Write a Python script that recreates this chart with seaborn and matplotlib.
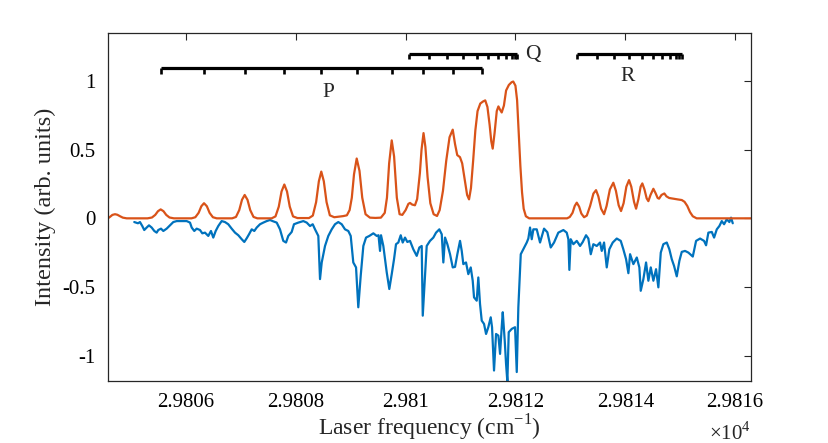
"""Espectro de excitación láser: medido vs. simulado, con ramas P, Q y R."""

import matplotlib

matplotlib.use("Agg")
import matplotlib.pyplot as plt
import seaborn as sns

# --- datos ---------------------------------------------------------------

# espectro simulado (naranja)
sim_freq = [
    29804.579, 29804.620, 29804.660, 29804.707, 29804.750, 29804.800, 29804.850, 29804.920,
    29805.300, 29805.380, 29805.440, 29805.490, 29805.539, 29805.590, 29805.640, 29805.700, 29805.780,
    29806.100, 29806.170, 29806.230, 29806.280, 29806.328, 29806.380, 29806.430, 29806.490, 29806.560,
    29806.840, 29806.910, 29806.970, 29807.020, 29807.069, 29807.120, 29807.170, 29807.230, 29807.300,
    29807.560, 29807.630, 29807.690, 29807.740, 29807.791, 29807.840, 29807.890, 29807.950, 29808.030,
    29808.240, 29808.310, 29808.370, 29808.420, 29808.464, 29808.510, 29808.560, 29808.620, 29808.700,
    29808.780, 29808.860,
    29808.930, 29808.980, 29809.020, 29809.060, 29809.109, 29809.160, 29809.210, 29809.270, 29809.350,
    29809.450,
    29809.550, 29809.620, 29809.660, 29809.700, 29809.747, 29809.790, 29809.840, 29809.890, 29809.940,
    29810.000, 29810.050, 29810.080, 29810.120, 29810.170,
    29810.210, 29810.260, 29810.290, 29810.326, 29810.360, 29810.400, 29810.450, 29810.510, 29810.572,
    29810.620, 29810.680, 29810.740, 29810.800, 29810.858, 29810.900, 29810.940, 29810.990, 29811.030,
    29811.070, 29811.120, 29811.155, 29811.190, 29811.230, 29811.270, 29811.310, 29811.360, 29811.410,
    29811.450, 29811.490, 29811.530, 29811.560, 29811.586, 29811.620, 29811.660, 29811.690, 29811.720,
    29811.750, 29811.790, 29811.830, 29811.880, 29811.930, 29811.960, 29812.000, 29812.030, 29812.060,
    29812.090, 29812.120, 29812.150, 29812.190, 29812.250,
    29812.600, 29812.940, 29812.990, 29813.040, 29813.080, 29813.117, 29813.160, 29813.200, 29813.250,
    29813.300, 29813.360, 29813.420, 29813.468, 29813.510, 29813.560, 29813.614, 29813.660, 29813.720,
    29813.783, 29813.830, 29813.880, 29813.923, 29813.970, 29814.020, 29814.069, 29814.110, 29814.160,
    29814.197, 29814.240, 29814.280, 29814.311, 29814.350, 29814.390, 29814.421, 29814.460, 29814.512,
    29814.550, 29814.590, 29814.616, 29814.660, 29814.712, 29814.750, 29814.800, 29814.870, 29814.950,
    29815.030, 29815.080, 29815.130, 29815.180, 29815.230, 29815.300, 29816.291,
]
sim_int = [
    0.000, 0.012, 0.025, 0.030, 0.026, 0.015, 0.005, 0.000,
    0.000, 0.006, 0.025, 0.052, 0.065, 0.052, 0.025, 0.006, 0.000,
    0.000, 0.008, 0.040, 0.088, 0.110, 0.088, 0.040, 0.008, 0.000,
    0.000, 0.010, 0.060, 0.135, 0.170, 0.135, 0.060, 0.010, 0.000,
    0.000, 0.014, 0.085, 0.195, 0.246, 0.195, 0.085, 0.014, 0.002,
    0.002, 0.020, 0.118, 0.270, 0.340, 0.270, 0.118, 0.022, 0.008,
    0.012, 0.016,
    0.022, 0.060, 0.150, 0.320, 0.435, 0.345, 0.150, 0.030, 0.005,
    0.003,
    0.005, 0.040, 0.150, 0.400, 0.567, 0.450, 0.150, 0.030, 0.025,
    0.060, 0.105, 0.112, 0.100, 0.095,
    0.140, 0.330, 0.500, 0.620, 0.520, 0.300, 0.110, 0.030, 0.017,
    0.060, 0.200, 0.420, 0.590, 0.645, 0.540, 0.460, 0.445, 0.400,
    0.300, 0.170, 0.138, 0.220, 0.420, 0.640, 0.780, 0.835, 0.850,
    0.858, 0.810, 0.680, 0.560, 0.507, 0.620, 0.780, 0.814, 0.790,
    0.770, 0.820, 0.930, 0.970, 0.990, 0.995, 0.965, 0.860, 0.620,
    0.380, 0.190, 0.070, 0.015, 0.000,
    0.000, 0.000, 0.010, 0.040, 0.090, 0.114, 0.085, 0.035, 0.008,
    0.020, 0.090, 0.180, 0.205, 0.160, 0.070, 0.030, 0.090, 0.210,
    0.259, 0.200, 0.095, 0.053, 0.110, 0.230, 0.278, 0.230, 0.120,
    0.070, 0.140, 0.230, 0.254, 0.210, 0.145, 0.125, 0.170, 0.215,
    0.185, 0.148, 0.143, 0.170, 0.181, 0.160, 0.148, 0.143, 0.138,
    0.133, 0.120, 0.090, 0.045, 0.015, 0.000, 0.000,
]

# espectro medido (azul, invertido)
exp_freq = [
    29805.058, 29805.126, 29805.162, 29805.204, 29805.240, 29805.284, 29805.326,
    29805.375, 29805.423, 29805.466, 29805.495, 29805.545, 29805.587, 29805.648,
    29805.709, 29805.769, 29805.831, 29805.922, 29806.013, 29806.073, 29806.104,
    29806.151, 29806.195, 29806.255, 29806.297, 29806.346, 29806.406, 29806.455,
    29806.497, 29806.541, 29806.588, 29806.650, 29806.710, 29806.770, 29806.832,
    29806.893, 29806.953, 29807.015, 29807.062, 29807.106, 29807.148, 29807.197,
    29807.244, 29807.288, 29807.348, 29807.408, 29807.470, 29807.530, 29807.590,
    29807.652, 29807.712, 29807.772, 29807.822, 29807.863, 29807.925, 29807.967,
    29808.046, 29808.137, 29808.199, 29808.259, 29808.308, 29808.350, 29808.410,
    29808.441, 29808.472, 29808.532, 29808.592, 29808.654, 29808.714, 29808.774,
    29808.836, 29808.896, 29808.956, 29809.000, 29809.047, 29809.097, 29809.138,
    29809.182, 29809.230, 29809.279, 29809.339, 29809.412, 29809.474, 29809.506,
    29809.534, 29809.552, 29809.594, 29809.656, 29809.703, 29809.747, 29809.789,
    29809.825, 29809.867, 29809.911, 29809.947, 29809.989, 29810.031, 29810.080,
    29810.140, 29810.202, 29810.250, 29810.293, 29810.312, 29810.353, 29810.384,
    29810.444, 29810.505, 29810.554, 29810.614, 29810.658, 29810.687, 29810.718,
    29810.760, 29810.809, 29810.858, 29810.900, 29810.942, 29810.991, 29811.022,
    29811.051, 29811.100, 29811.142, 29811.186, 29811.222, 29811.246, 29811.295,
    29811.324, 29811.355, 29811.386, 29811.428, 29811.465, 29811.506, 29811.550,
    29811.574, 29811.610, 29811.647, 29811.689, 29811.720, 29811.750, 29811.769,
    29811.805, 29811.829, 29811.853, 29811.878, 29811.933, 29811.993, 29812.024,
    29812.053, 29812.097, 29812.144, 29812.206, 29812.235, 29812.266, 29812.297,
    29812.326, 29812.388, 29812.448, 29812.521, 29812.581, 29812.643, 29812.703,
    29812.781, 29812.873, 29812.934, 29812.964, 29812.982, 29813.007, 29813.055,
    29813.117, 29813.177, 29813.226, 29813.286, 29813.328, 29813.372, 29813.419,
    29813.481, 29813.541, 29813.572, 29813.614, 29813.663, 29813.710, 29813.772,
    29813.845, 29813.918, 29813.965, 29814.015, 29814.057, 29814.088, 29814.148,
    29814.210, 29814.257, 29814.282, 29814.330, 29814.379, 29814.421, 29814.465,
    29814.512, 29814.561, 29814.603, 29814.647, 29814.694, 29814.756, 29814.803,
    29814.847, 29814.889, 29814.938, 29814.986, 29815.029, 29815.089, 29815.149,
    29815.230, 29815.290, 29815.363, 29815.435, 29815.472, 29815.514, 29815.576,
    29815.618, 29815.667, 29815.714, 29815.758, 29815.800, 29815.849, 29815.896,
    29815.927, 29815.958,
]
exp_int = [
    -0.027, -0.036, -0.027, -0.056, -0.085, -0.067, -0.051,
    -0.067, -0.092, -0.104, -0.085, -0.075, -0.092, -0.075,
    -0.051, -0.027, -0.020, -0.020, -0.020, -0.031, -0.067,
    -0.092, -0.075, -0.085, -0.109, -0.104, -0.128, -0.092,
    -0.140, -0.092, -0.056, -0.020, -0.027, -0.043, -0.075,
    -0.104, -0.123, -0.152, -0.172, -0.145, -0.116, -0.080,
    -0.092, -0.067, -0.043, -0.031, -0.020, -0.012, -0.022,
    -0.031, -0.080, -0.164, -0.176, -0.128, -0.099, -0.043,
    -0.031, -0.020, -0.031, -0.056, -0.043, -0.080, -0.128,
    -0.442, -0.321, -0.201, -0.128, -0.080, -0.043, -0.027,
    -0.043, -0.080, -0.092, -0.128, -0.321, -0.357, -0.647,
    -0.418, -0.201, -0.140, -0.128, -0.109, -0.128, -0.123,
    -0.237, -0.123, -0.201, -0.393, -0.514, -0.406, -0.297,
    -0.188, -0.176, -0.123, -0.176, -0.140, -0.172, -0.164,
    -0.225, -0.273, -0.212, -0.201, -0.708, -0.418, -0.201,
    -0.164, -0.140, -0.104, -0.080, -0.116, -0.321, -0.140,
    -0.188, -0.261, -0.357, -0.353, -0.261, -0.164, -0.237,
    -0.333, -0.321, -0.406, -0.357, -0.454, -0.575, -0.599,
    -0.430, -0.623, -0.744, -0.768, -0.841, -0.792, -0.720,
    -0.792, -1.107, -0.841, -0.853, -0.986, -0.792, -0.683,
    -0.889, -1.058, -1.188, -0.828, -0.804, -0.792, -1.118,
    -0.647, -0.261, -0.225, -0.176, -0.147, -0.067, -0.152,
    -0.080, -0.080, -0.176, -0.075, -0.101, -0.212, -0.176,
    -0.104, -0.085, -0.104, -0.152, -0.375, -0.152, -0.188,
    -0.164, -0.201, -0.172, -0.123, -0.147, -0.261, -0.188,
    -0.201, -0.176, -0.237, -0.176, -0.357, -0.225, -0.176,
    -0.147, -0.164, -0.225, -0.297, -0.399, -0.261, -0.333,
    -0.285, -0.357, -0.527, -0.442, -0.321, -0.454, -0.357,
    -0.454, -0.370, -0.502, -0.249, -0.188, -0.176, -0.225,
    -0.297, -0.346, -0.422, -0.309, -0.244, -0.237, -0.249,
    -0.278, -0.164, -0.147, -0.164, -0.196, -0.104, -0.099,
    -0.140, -0.080, -0.056, -0.020, -0.043, -0.007, -0.027,
    0.005, -0.036,
]

# posiciones de las líneas de cada rama
p_lines = [29805.539, 29806.328, 29807.069, 29807.791, 29808.464,
           29809.109, 29809.747, 29810.317, 29810.869, 29811.386]
q_lines = [29810.067, 29810.432, 29810.749, 29811.040, 29811.295, 29811.506,
           29811.689, 29811.829, 29811.933, 29811.993, 29812.035]
r_lines = [29813.117, 29813.481, 29813.801, 29814.069, 29814.311, 29814.512,
           29814.676, 29814.816, 29814.920, 29814.985, 29815.029]

x_ticks = [29806, 29808, 29810, 29812, 29814, 29816]
x_tick_labels = ["2.9806", "2.9808", "2.981", "2.9812", "2.9814", "2.9816"]
y_ticks = [-1, -0.5, 0, 0.5, 1]
y_tick_labels = ["-1", "-0.5", "0", "0.5", "1"]

assert len(sim_freq) == len(sim_int)
assert len(exp_freq) == len(exp_int)

BLUE = "#0072BD"
ORANGE = "#D95319"
AXIS_COLOR = "#262626"


def draw_branch(ax, lines, level, label, label_xy, tick=0.04):
    """Dibuja el peine de una rama rotacional."""
    ax.plot([lines[0], lines[-1]], [level, level], color="black", lw=2.3,
            solid_capstyle="butt")
    ax.vlines(lines, level - tick, level, color="black", lw=1.9)
    ax.text(label_xy[0], label_xy[1], label, ha="center", va="center",
            fontsize=15.5)


sns.set_theme(style="white")
plt.rcParams.update(
    {
        "font.family": ["Liberation Serif", "DejaVu Serif"],
        "mathtext.fontset": "custom",
        "mathtext.rm": "Liberation Serif",
        "axes.edgecolor": AXIS_COLOR,
        "axes.linewidth": 0.9,
        "xtick.color": AXIS_COLOR,
        "ytick.color": AXIS_COLOR,
        "xtick.labelcolor": "black",
        "ytick.labelcolor": "black",
    }
)

fig = plt.figure(figsize=(8.29, 4.43), dpi=100)
ax = fig.add_axes([0.1303, 0.1400, 0.7756, 0.7855])

sns.lineplot(x=exp_freq, y=exp_int, ax=ax, color=BLUE, linewidth=1.6, sort=False)
sns.lineplot(x=sim_freq, y=sim_int, ax=ax, color=ORANGE, linewidth=1.6, sort=False)

draw_branch(ax, p_lines, 1.092, "P", (29808.587, 0.915))
draw_branch(ax, q_lines, 1.196, "Q", (29812.32, 1.19))
draw_branch(ax, r_lines, 1.196, "R", (29814.05, 1.035))

ax.set_xlim(29804.58, 29816.29)
ax.set_ylim(-1.183, 1.348)
ax.set_xticks(x_ticks)
ax.set_xticklabels(x_tick_labels)
ax.set_yticks(y_ticks)
ax.set_yticklabels(y_tick_labels)
ax.tick_params(direction="in", length=5, width=0.8, top=True, right=True,
               labelsize=15, pad=9)
for side in ["top", "right", "bottom", "left"]:
    ax.spines[side].set_visible(True)

ax.set_xlabel("Laser frequency (cm$^{-1}$)", fontsize=17, labelpad=0)
ax.set_ylabel("Intensity (arb. units)", fontsize=17.5, labelpad=5)
ax.text(1.0, -0.15, r"$\times10^{4}$", transform=ax.transAxes, ha="right",
        va="center", fontsize=15)

fig.savefig("out.png", dpi=100)
